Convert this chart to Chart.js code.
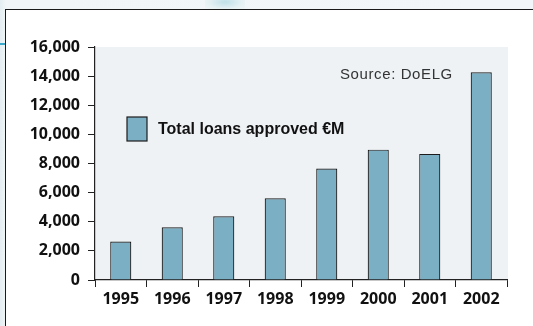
<!DOCTYPE html>
<html>
<head>
<meta charset="utf-8">
<script src="https://cdn.jsdelivr.net/npm/chart.js@4.4.1/dist/chart.umd.min.js"></script>
<style>
  html, body { margin: 0; padding: 0; }
  body { width: 533px; height: 326px; overflow: hidden; position: relative;
         background: linear-gradient(to right, #e4edf1 0px, #f1f5f7 6px, #f3f6f8 100%); }
  #blob { position: absolute; left: 205px; top: -6px; width: 40px; height: 16px;
          background: radial-gradient(ellipse at center, #bfe0e8 0%, #e6f1f4 60%, rgba(243,246,248,0) 100%); }
  #cyan { position: absolute; left: 0; top: 43px; width: 5px; height: 2px; background: #3aa9c9; }
  #frame { position: absolute; left: 5px; top: 9px; width: 600px; height: 400px;
           border-left: 1.5px solid #1a1a1a; border-top: 1.5px solid #1a1a1a; background: #ffffff; }
  #wrap { position: absolute; left: 0; top: 0; width: 533px; height: 326px; }
</style>
</head>
<body>
<div id="blob"></div>
<div id="cyan"></div>
<div id="frame"></div>
<div id="wrap"><canvas id="c" width="533" height="326"></canvas></div>
<script>
// ---- data ----
const categories = ['1995', '1996', '1997', '1998', '1999', '2000', '2001', '2002'];
const loansApproved = [2640, 3620, 4380, 5610, 7650, 8950, 8660, 14270];
const seriesLabel = 'Total loans approved €M';
const sourceNote = 'Source: DoELG';
const yTickValues = [0, 2000, 4000, 6000, 8000, 10000, 12000, 14000, 16000];
const yTickLabels = ['0', '2,000', '4,000', '6,000', '8,000', '10,000', '12,000', '14,000', '16,000'];

const BAR_FILL = '#7aafc4';
const BAR_EDGE = '#1c1c1c';
const PLOT_BG = '#eef2f5';
const AXIS = '#222222';
const TICK_FONT = { family: '"Open Sans", "Liberation Sans", sans-serif', size: 16, weight: 'bold' };

const decorPlugin = {
  id: 'decor',
  beforeDraw(chart) {
    const { ctx, chartArea: a } = chart;
    ctx.save();
    ctx.fillStyle = PLOT_BG;
    ctx.fillRect(a.left, a.top, a.right - a.left + 1, a.bottom - a.top);
    ctx.restore();
  },
  afterDraw(chart) {
    const { ctx, chartArea: a } = chart;
    const ds = chart.data.datasets[0];
    ctx.save();
    // legend box
    const bx = a.left + 32, by = a.top + 70;
    ctx.fillStyle = ds.backgroundColor;
    ctx.fillRect(bx, by, 20, 24);
    ctx.strokeStyle = BAR_EDGE;
    ctx.lineWidth = 1.2;
    ctx.strokeRect(bx, by, 20, 24);
    ctx.fillStyle = '#111111';
    ctx.font = 'bold 16px "Liberation Sans", sans-serif';
    ctx.textBaseline = 'middle';
    ctx.textAlign = 'left';
    ctx.fillText(ds.label, bx + 31, by + 13);
    // source note
    ctx.fillStyle = '#333333';
    ctx.font = '15px "Liberation Sans", sans-serif';
    try { ctx.letterSpacing = '0.6px'; } catch (e) {}
    ctx.textAlign = 'left';
    ctx.fillText(sourceNote, 340, 75);
    ctx.restore();
  }
};

new Chart(document.getElementById('c'), {
  type: 'bar',
  data: {
    labels: categories,
    datasets: [{
      label: seriesLabel,
      data: loansApproved,
      backgroundColor: BAR_FILL,
      borderColor: BAR_EDGE,
      borderWidth: 1.2,
      categoryPercentage: 1.0,
      barPercentage: 0.41
    }]
  },
  options: {
    responsive: false,
    animation: false,
    layout: { padding: { left: 0, top: 47, right: 26, bottom: 0 } },
    plugins: { legend: { display: false }, tooltip: { enabled: false } },
    scales: {
      x: {
        grid: { display: true, drawOnChartArea: false, offset: true, tickLength: 7, color: AXIS, lineWidth: 1 },
        border: { display: true, color: AXIS, width: 1.2 },
        ticks: { color: '#111111', font: TICK_FONT, padding: 3, maxRotation: 0 },
        afterFit(s) { s.height = 46; }
      },
      y: {
        min: 0, max: 16000,
        afterBuildTicks(s) { s.ticks = yTickValues.map(v => ({ value: v })); },
        grid: { display: true, drawOnChartArea: false, tickLength: 7, color: AXIS, lineWidth: 1 },
        border: { display: true, color: AXIS, width: 1.2 },
        ticks: {
          color: '#111111', font: TICK_FONT, padding: 8,
          callback(v) { const i = yTickValues.indexOf(v); return i >= 0 ? yTickLabels[i] : ''; }
        },
        afterFit(s) { s.width = 95; }
      }
    }
  },
  plugins: [decorPlugin]
});
</script>
</body>
</html>
